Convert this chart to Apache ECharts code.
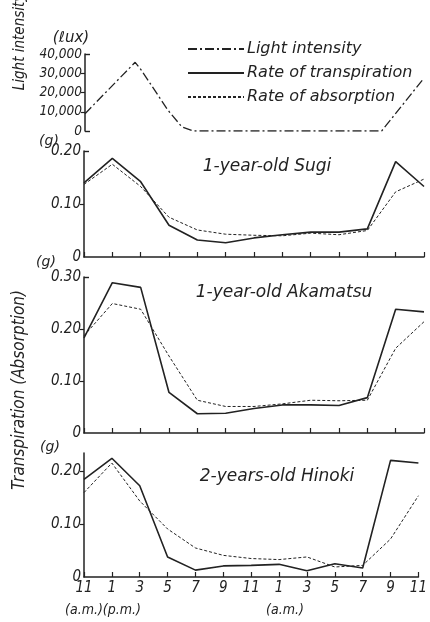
<!DOCTYPE html>
<html>
<head>
<meta charset="utf-8">
<script src="https://cdn.jsdelivr.net/npm/echarts@6/dist/echarts.min.js"></script>
<style>
  html, body { margin: 0; padding: 0; background: #fff; }
  #chart { width: 430px; height: 622px; }
</style>
</head>
<body>
<div id="chart"></div>
<script>
// Clock hour shown under each 2-hour step, starting at 11 a.m.
var tickLabels = ['11', '1', '3', '5', '7', '9', '11', '1', '3', '5', '7', '9', '11'];
// Hours elapsed since 11 a.m. for each measurement
var sampleHours = [0, 2, 4, 6, 8, 10, 12, 14, 16, 18, 20, 22, 24];

// Light intensity (lux), hours since 11 a.m.
var lightHours = [0, 3.55, 4.0, 5.85, 6.85, 7.65, 21.0, 24];
var lightLux = [9000, 35700, 31500, 11000, 2200, 0, 0, 27500];

// 1-year-old Sugi (g)
var sugiTrans = [0.140, 0.186, 0.142, 0.060, 0.032, 0.027, 0.036, 0.042, 0.047, 0.047, 0.053, 0.180, 0.133];
var sugiAbs   = [0.137, 0.175, 0.133, 0.075, 0.051, 0.043, 0.041, 0.040, 0.045, 0.042, 0.050, 0.123, 0.147];

// 1-year-old Akamatsu (g)
var akaTrans = [0.183, 0.289, 0.280, 0.078, 0.037, 0.038, 0.047, 0.054, 0.054, 0.053, 0.068, 0.238, 0.233];
var akaAbs   = [0.187, 0.249, 0.238, 0.148, 0.063, 0.051, 0.051, 0.056, 0.063, 0.062, 0.063, 0.163, 0.214];

// 2-years-old Hinoki (g)
var hinTrans = [0.185, 0.225, 0.173, 0.038, 0.013, 0.021, 0.022, 0.024, 0.012, 0.025, 0.017, 0.221, 0.216];
var hinAbs   = [0.160, 0.216, 0.144, 0.091, 0.055, 0.041, 0.035, 0.033, 0.038, 0.019, 0.022, 0.072, 0.154];

var INK = '#222';
var FONT = 'DejaVu Sans';
var NARROW = "'DejaVu Sans Condensed', 'Liberation Sans Narrow', 'DejaVu Sans'";

function pairs(xs, ys) {
  return xs.map(function (x, i) { return [x, ys[i]]; });
}

function gramLabel(v) {
  return v === 0 ? '0' : v.toFixed(2);
}

function luxLabel(v) {
  return v === 0 ? '0' : String(v).replace(/\B(?=(\d{3})+(?!\d))/g, ',');
}

function labelStyle(family, size) {
  return { color: INK, fontFamily: family, fontStyle: 'italic', fontWeight: 'normal', fontSize: size };
}

function xAxisFor(gridIndex, showLine, showLabels) {
  return {
    type: 'value', gridIndex: gridIndex, min: 0, max: 24, interval: 2,
    show: showLine,
    axisLine: { show: true, lineStyle: { color: INK, width: 1.5 } },
    axisTick: { show: true, inside: true, length: 5, lineStyle: { color: INK, width: 1.2 } },
    axisLabel: Object.assign({ show: showLabels, margin: 4,
      formatter: function (v) { return tickLabels[Math.round(v / 2)]; } }, labelStyle(NARROW, 15)),
    splitLine: { show: false }
  };
}

// Main value axis: outward ticks, labels at every tick value
function yAxisFor(gridIndex, max, labels, outTicks, fmt, size) {
  return {
    type: 'value', gridIndex: gridIndex, min: 0, max: max, position: 'left',
    axisLine: { show: true, lineStyle: { color: INK, width: 1.5 } },
    axisTick: { show: true, inside: false, length: 4, customValues: outTicks, lineStyle: { color: INK, width: 1.2 } },
    axisLabel: Object.assign({ margin: 3, customValues: labels, formatter: fmt }, labelStyle(NARROW, size)),
    splitLine: { show: false }
  };
}

// Companion axis that only draws the inward end ticks of a bracket-style scale
function capAxisFor(gridIndex, max, capTicks) {
  return {
    type: 'value', gridIndex: gridIndex, min: 0, max: max, position: 'left',
    axisLine: { show: false },
    axisTick: { show: true, inside: true, length: 5, customValues: capTicks, lineStyle: { color: INK, width: 1.4 } },
    axisLabel: { show: false },
    splitLine: { show: false }
  };
}

var solid = { color: INK, width: 1.6, type: 'solid' };
var dotted = { color: INK, width: 1, type: [3, 2] };
var dashDot = { color: INK, width: 1.3, type: [9, 3, 2, 3] };

function lineSeries(name, xi, yi, data, style) {
  return {
    name: name, type: 'line', xAxisIndex: xi, yAxisIndex: yi,
    data: data, symbol: 'none', lineStyle: style, itemStyle: { color: INK },
    silent: true, animation: false
  };
}

function text(x, y, str, size, rotate, family) {
  return {
    type: 'text', x: x, y: y, rotation: rotate || 0,
    style: {
      text: str, fill: INK, fontFamily: family || FONT, fontStyle: 'italic',
      fontSize: size, align: 'center', verticalAlign: 'middle'
    }
  };
}

var chart = echarts.init(document.getElementById('chart'), null, { renderer: 'canvas' });

chart.setOption({
  backgroundColor: '#fff',
  animation: false,
  grid: [
    { left: 85, right: 6, top: 54, height: 77 },
    { left: 84, right: 6, top: 151, height: 106 },
    { left: 84, right: 6, top: 277, height: 156 },
    { left: 84, right: 6, top: 453, height: 124 }
  ],
  xAxis: [
    xAxisFor(0, false, false),
    xAxisFor(1, true, false),
    xAxisFor(2, true, false),
    xAxisFor(3, true, true)
  ],
  yAxis: [
    yAxisFor(0, 40000, [0, 10000, 20000, 30000, 40000], [10000, 20000, 30000], luxLabel, 13.5),
    yAxisFor(1, 0.2, [0, 0.1, 0.2], [0.1], gramLabel, 15),
    yAxisFor(2, 0.3, [0, 0.1, 0.2, 0.3], [0.1, 0.2], gramLabel, 15),
    yAxisFor(3, 0.235, [0, 0.1, 0.2], [0.1, 0.2], gramLabel, 15),
    capAxisFor(0, 40000, [0, 40000]),
    capAxisFor(1, 0.2, [0.2]),
    capAxisFor(2, 0.3, [0.3])
  ],
  legend: {
    orient: 'vertical', left: 182, top: 36, itemGap: 8,
    itemWidth: 56, itemHeight: 16,
    itemStyle: { color: 'transparent', borderColor: 'transparent', borderWidth: 0 },
    textStyle: { color: INK, fontFamily: FONT, fontStyle: 'italic', fontSize: 16, padding: [0, 0, 0, -2] },
    data: ['Light intensity', 'Rate of transpiration', 'Rate of absorption']
  },
  series: [
    lineSeries('Light intensity', 0, 0, pairs(lightHours, lightLux), dashDot),
    lineSeries('Rate of transpiration', 1, 1, pairs(sampleHours, sugiTrans), solid),
    lineSeries('Rate of absorption', 1, 1, pairs(sampleHours, sugiAbs), dotted),
    lineSeries('Rate of transpiration', 2, 2, pairs(sampleHours, akaTrans), solid),
    lineSeries('Rate of absorption', 2, 2, pairs(sampleHours, akaAbs), dotted),
    lineSeries('Rate of transpiration', 3, 3, pairs(sampleHours, hinTrans), solid),
    lineSeries('Rate of absorption', 3, 3, pairs(sampleHours, hinAbs), dotted)
  ],
  graphic: [
    text(20, 42, 'Light intensity', 15, Math.PI / 2, NARROW),
    text(20, 390, 'Transpiration (Absorption)', 17, Math.PI / 2, NARROW),
    text(71, 38, '(ℓux)', 15),
    text(49, 141, '(g)', 14),
    text(46, 262, '(g)', 14),
    text(50, 447, '(g)', 14),
    text(267, 167, '1-year-old Sugi', 17),
    text(284, 293, '1-year-old Akamatsu', 17),
    text(277, 477, '2-years-old Hinoki', 17),
    text(103, 610, '(a.m.)(p.m.)', 14, 0, NARROW),
    text(285, 610, '(a.m.)', 14, 0, NARROW)
  ]
});
</script>
</body>
</html>
